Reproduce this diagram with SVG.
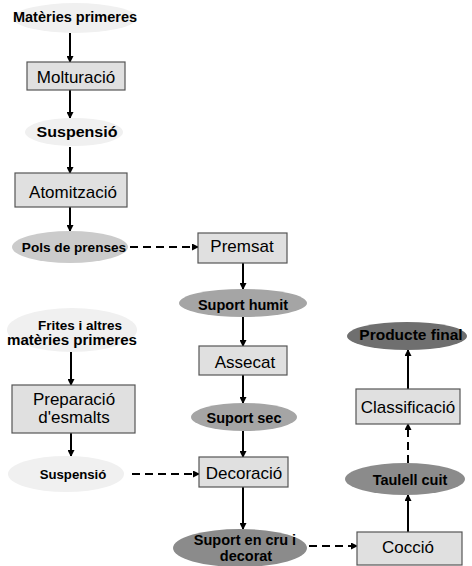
<svg xmlns="http://www.w3.org/2000/svg" width="472" height="566" viewBox="0 0 472 566">
<defs>
<marker id="ah" markerWidth="7" markerHeight="7" refX="6" refY="3.5" orient="auto" markerUnits="userSpaceOnUse">
<path d="M0,0 L7,3.5 L0,7 Z" fill="#000"/>
</marker>
<style>
.box{fill:#e0e0e0;stroke:#555;stroke-width:1.2}
.bt{font-family:"Liberation Sans",Arial,sans-serif;font-size:17px;fill:#000;text-anchor:middle}
.et{font-family:"Liberation Sans",Arial,sans-serif;font-size:14.5px;font-weight:bold;fill:#000;text-anchor:middle}
.e0{fill:#f0f0f0}
.e1{fill:#cbcbcb}
.e2{fill:#a5a5a5}
.e3{fill:#8b8b8b}
.e4{fill:#6f6f6f}
.c{stroke:#000;stroke-width:2;fill:none;marker-end:url(#ah)}
.d{stroke-dasharray:8 5}
</style>
</defs>
<rect width="472" height="566" fill="#fff"/>
<g id="connectors">
<line class="c" x1="70" y1="33" x2="70" y2="62"/>
<line class="c" x1="70" y1="90" x2="70" y2="118"/>
<line class="c" x1="70" y1="147" x2="70" y2="173"/>
<line class="c" x1="70" y1="207" x2="70" y2="231"/>
<line class="c d" x1="130" y1="247" x2="198" y2="247"/>
<line class="c" x1="71" y1="352" x2="71" y2="385"/>
<line class="c" x1="71" y1="433" x2="71" y2="456"/>
<line class="c d" x1="132" y1="474" x2="199" y2="474"/>
<line class="c" x1="243" y1="263" x2="243" y2="289"/>
<line class="c" x1="243" y1="317" x2="243" y2="346"/>
<line class="c" x1="243" y1="375" x2="243" y2="403"/>
<line class="c" x1="243" y1="431" x2="243" y2="457"/>
<line class="c" x1="243" y1="487" x2="243" y2="529"/>
<line class="c d" x1="309" y1="546" x2="357" y2="546"/>
<line class="c" x1="408" y1="532" x2="408" y2="495"/>
<line class="c d" x1="408" y1="463" x2="408" y2="424"/>
<line class="c" x1="408" y1="389" x2="408" y2="350"/>
</g>
<g id="materies"><ellipse class="e0" cx="75" cy="18" rx="62" ry="15"/><text class="et" x="75" y="22" textLength="124" lengthAdjust="spacingAndGlyphs">Matèries primeres</text></g>
<g id="molturacio"><rect class="box" x="27" y="62" width="98" height="28"/><text class="bt" x="76" y="83">Molturació</text></g>
<g id="suspensio1"><ellipse class="e0" cx="74" cy="132" rx="49" ry="14"/><text class="et" x="77" y="137" font-size="15" textLength="81" lengthAdjust="spacingAndGlyphs">Suspensió</text></g>
<g id="atomitzacio"><rect class="box" x="15" y="173" width="112" height="34"/><text class="bt" x="73" y="198">Atomització</text></g>
<g id="pols"><ellipse class="e1" cx="70" cy="247" rx="58" ry="16"/><text class="et" x="74" y="252" style="font-size:13.6px">Pols de prenses</text></g>
<g id="premsat"><rect class="box" x="198" y="233" width="89" height="30"/><text class="bt" x="242" y="252">Premsat</text></g>
<g id="suporthumit"><ellipse class="e2" cx="243" cy="303" rx="64" ry="14"/><text class="et" x="243" y="310">Suport humit</text></g>
<g id="assecat"><rect class="box" x="199" y="346" width="88" height="29"/><text class="bt" x="245" y="368">Assecat</text></g>
<g id="suportsec"><ellipse class="e2" cx="244" cy="417" rx="53" ry="14"/><text class="et" x="244" y="423">Suport sec</text></g>
<g id="frites"><ellipse class="e0" cx="72" cy="330" rx="65" ry="22"/><text class="et" x="80" y="330" style="font-size:13.5px">Frites i altres</text><text class="et" x="72" y="345" textLength="130" lengthAdjust="spacingAndGlyphs">matèries primeres</text></g>
<g id="preparacio"><rect class="box" x="12" y="385" width="123" height="48"/><text class="bt" x="74" y="405">Preparació</text><text class="bt" x="74" y="423">d'esmalts</text></g>
<g id="suspensio2"><ellipse class="e0" cx="66" cy="474" rx="58" ry="18"/><text class="et" x="73" y="479" style="font-size:13.2px">Suspensió</text></g>
<g id="decoracio"><rect class="box" x="199" y="457" width="89" height="30"/><text class="bt" x="244" y="479">Decoració</text></g>
<g id="suportcru"><ellipse class="e3" cx="240" cy="548" rx="67" ry="19"/><text class="et" x="245" y="545">Suport en cru i</text><text class="et" x="246" y="561">decorat</text></g>
<g id="coccio"><rect class="box" x="357" y="532" width="105" height="33"/><text class="bt" x="408" y="553">Cocció</text></g>
<g id="taulell"><ellipse class="e3" cx="405" cy="479" rx="60" ry="16"/><text class="et" x="410" y="485">Taulell cuit</text></g>
<g id="classificacio"><rect class="box" x="356" y="389" width="104" height="35"/><text class="bt" x="408" y="413">Classificació</text></g>
<g id="producte"><ellipse class="e4" cx="407" cy="336" rx="60" ry="14"/><text class="et" x="411" y="340" style="font-size:15.5px">Producte final</text></g>
</svg>
